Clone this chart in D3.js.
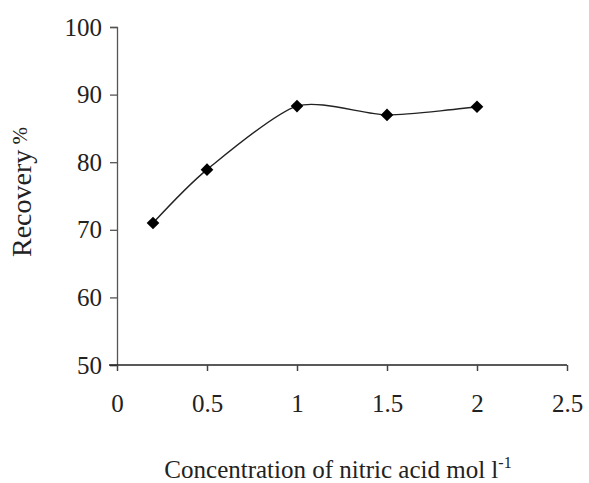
<!DOCTYPE html>
<html>
<head>
  <meta charset="utf-8">
  <script src="https://d3js.org/d3.v7.min.js"></script>
  <style type="text/css">
    body { margin: 0; background: #fff; }
  </style>
</head>
<body>
  <script type="text/javascript">
    // concentration of nitric acid (mol l-1) and recovery (%)
    var concentration = [0.2, 0.5, 1.0, 1.5, 2.0];
    var recovery = [71.0, 78.9, 88.3, 87.0, 88.2];
    var xTicks = [0, 0.5, 1, 1.5, 2, 2.5];
    var yTicks = [50, 60, 70, 80, 90, 100];

    var width = 589,
        height = 483,
        serif = "'Liberation Serif', 'Times New Roman', serif";

    var svg = d3.select("body")
      .append("svg")
        .attr("width", width)
        .attr("height", height);

    var x = d3.scaleLinear().domain([0, 2.5]).range([117, 567]);
    var y = d3.scaleLinear().domain([50, 100]).range([365, 27]);

    //Y axis
    var yAxis = svg.append("g")
      .attr("transform", "translate(" + x(0) + ",0)")
      .call(d3.axisLeft(y).tickValues(yTicks).tickSize(7).tickPadding(8).tickFormat(d3.format("d")));
    yAxis.attr("font-family", serif);
    yAxis.select(".domain").attr("stroke", "#555").attr("stroke-width", 1.3);
    yAxis.selectAll(".tick line").attr("stroke", "#555").attr("stroke-width", 1.3);
    yAxis.selectAll("text")
      .style("font-family", serif)
      .style("font-size", "25px")
      .attr("fill", "#222");

    //X axis
    var xAxis = svg.append("g")
      .attr("transform", "translate(0," + y(50) + ")")
      .call(d3.axisBottom(x).tickValues(xTicks).tickSize(6).tickPadding(23).tickFormat(function (d) { return d; }));
    xAxis.attr("font-family", serif);
    xAxis.select(".domain").attr("stroke", "#222").attr("stroke-width", 1.5)
      .attr("d", "M" + (x(0) - 8) + ",0H" + x(2.5));
    xAxis.selectAll(".tick line").attr("stroke", "#444").attr("stroke-width", 1.5);
    xAxis.selectAll("text")
      .style("font-family", serif)
      .style("font-size", "25px")
      .attr("fill", "#222");

    //Axis titles
    var yTitle = svg.append("text")
      .attr("transform", "translate(31,192) rotate(-90)")
      .attr("text-anchor", "middle")
      .style("font-family", serif)
      .style("font-size", "28px")
      .attr("fill", "#222")
      .text("Recovery");
    yTitle.append("tspan")
      .attr("dy", "-0.2em")
      .style("font-size", "21px")
      .text(" %");

    var xTitle = svg.append("text")
      .attr("x", 338)
      .attr("y", 478)
      .attr("text-anchor", "middle")
      .style("font-family", serif)
      .style("font-size", "25px")
      .attr("fill", "#222")
      .text("Concentration of nitric acid mol l");
    xTitle.append("tspan")
      .attr("dy", "-0.65em")
      .style("font-size", "16px")
      .text("-1");

    //Smoothed line
    var pts = concentration.map(function (d, i) { return [d, recovery[i]]; });
    var line = d3.line()
      .x(function (d) { return x(d[0]); })
      .y(function (d) { return y(d[1]); })
      .curve(d3.curveCardinal.tension(0.25));

    svg.append("path")
      .datum(pts)
      .attr("fill", "none")
      .attr("stroke", "#222")
      .attr("stroke-width", 1.4)
      .attr("d", line);

    //Diamond markers
    svg.selectAll(".marker")
      .data(pts)
      .enter()
      .append("path")
        .attr("class", "marker")
        .attr("d", d3.symbol().type(d3.symbolSquare).size(80))
        .attr("transform", function (d) { return "translate(" + x(d[0]) + "," + y(d[1]) + ") rotate(45)"; })
        .attr("fill", "#000");
  </script>
</body>
</html>
